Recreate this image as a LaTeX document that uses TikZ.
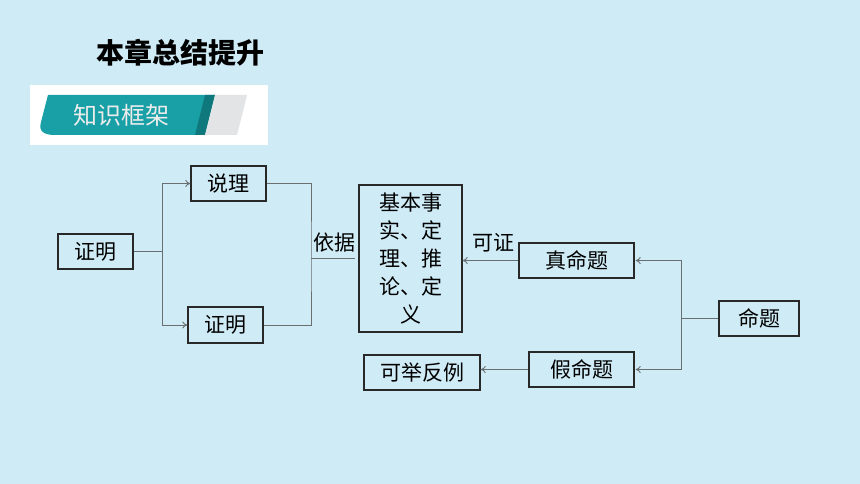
\documentclass[tikz,border=0pt]{standalone}
\usepackage{fontspec}
\newfontfamily\cjk{Noto Sans CJK SC}
\usetikzlibrary{arrows.meta}
\definecolor{bgblue}{RGB}{207,235,245}
\definecolor{teal1}{RGB}{24,160,166}
\definecolor{teal2}{RGB}{14,120,124}
\definecolor{grayband}{RGB}{226,228,230}
\definecolor{linegray}{RGB}{105,110,112}
\definecolor{boxline}{RGB}{40,40,40}
\tikzset{
  box/.style={draw=boxline, line width=1.3pt, rectangle, inner sep=0pt, font=\cjk\fontsize{21}{28}\selectfont},
  conn/.style={draw=linegray, line width=0.9pt},
  arr/.style={conn, -{To[length=5pt,width=7pt]}},
  lbl/.style={font=\cjk\fontsize{21}{26}\selectfont, inner sep=0pt}
}
\begin{document}
\begin{tikzpicture}[x=1pt,y=-1pt]
\useasboundingbox (0,0) rectangle (860,484);
\fill[bgblue] (0,0) rectangle (860,484);
% title
\node[font=\cjk\bfseries\fontsize{28}{30}\selectfont, inner sep=0pt] (title) at (180,53) {本章总结提升};
% banner
\fill[white] (30,85) rectangle (268,145);
\fill[teal1] (48,95) -- (215,95) -- (205,135) -- (55,135) .. controls (45,135) and (38,132) .. (41,122) -- cycle;
\fill[teal2] (205,95) -- (215,95) -- (205,135) -- (195,135) -- cycle;
\fill[grayband] (215,95) -- (247,95) -- (237,135) -- (205,135) -- cycle;
\node[font=\cjk\fontsize{24}{26}\selectfont, text=white!85!gray, inner sep=0pt] (kj0) at (121,115) {知识框架};
% nodes
\node[box, minimum width=75pt, minimum height=35pt] (zm) at (95.5,251.5) {证明};
\node[box, minimum width=75pt, minimum height=35pt] (sl) at (228.5,183.5) {说理};
\node[box, minimum width=75pt, minimum height=36pt] (zm2) at (225.5,325) {证明};
\node[box, minimum width=103pt, minimum height=147pt, align=center] (jb) at (410.5,258.5) {基本事\\实、定\\理、推\\论、定\\义};
\node[box, minimum width=115pt, minimum height=35pt] (zmt) at (576.5,260.5) {真命题};
\node[box, minimum width=80pt, minimum height=35pt] (mt) at (759,318.5) {命题};
\node[box, minimum width=105pt, minimum height=35pt] (jmt) at (581.5,369.5) {假命题};
\node[box, minimum width=116pt, minimum height=35pt] (kj) at (422,372.5) {可举反例};
% connectors
\coordinate (b1) at (162,251.5);
\draw[conn] (zm.east) -- (b1);
\draw[arr] (b1) |- (sl.west);
\draw[arr] (b1) |- (zm2.west);
\coordinate (b2) at (311,258.5);
\draw[conn] (sl.east) -| (b2) |- (zm2.east);
\draw[conn, shorten >=3pt] (b2) -- (jb.west);
\node[lbl] (yj) at (334,243) {依据};
\draw[arr] (zmt.west) -- (jb.east |- zmt.west);
\node[lbl] (kz) at (493,243) {可证};
\coordinate (b3) at (681,318.5);
\draw[conn] (mt.west) -- (b3);
\draw[arr, shorten >=1pt] (b3) |- (zmt.east);
\draw[arr, shorten >=1pt] (b3) |- (jmt.east);
\draw[arr] (jmt.west) -- (kj.east |- jmt.west);
\end{tikzpicture}
\end{document}
